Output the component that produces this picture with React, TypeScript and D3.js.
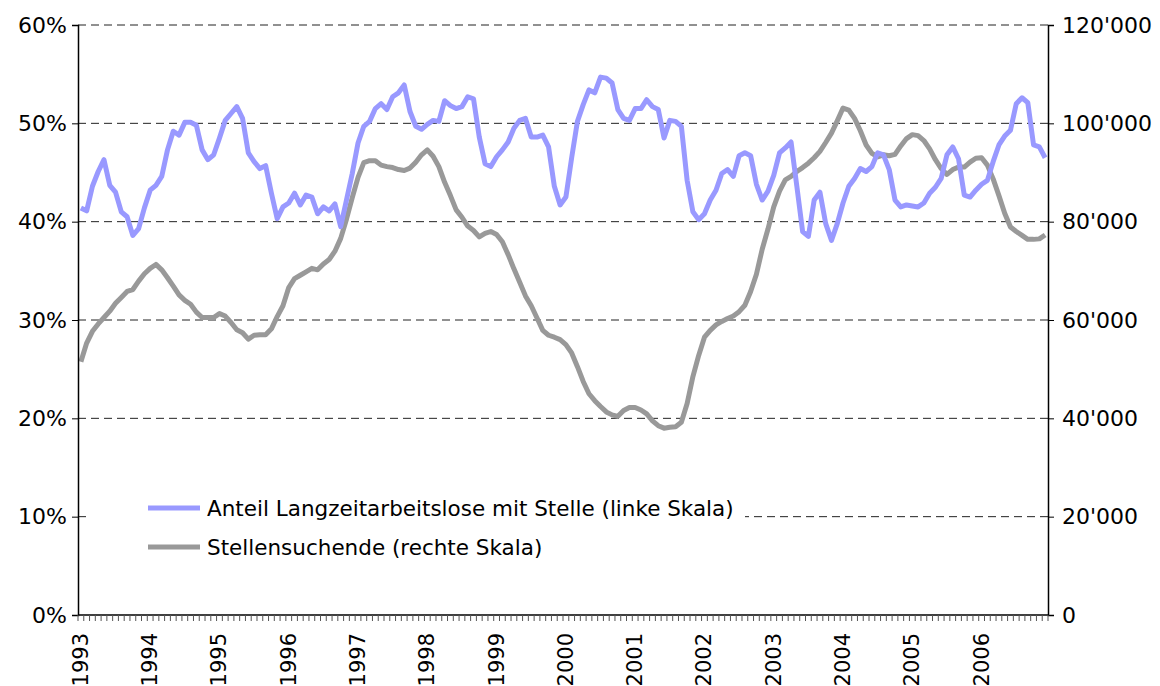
import React, { useRef, useEffect } from 'react';
import * as d3 from 'd3';

const years = [1993, 1994, 1995, 1996, 1997, 1998, 1999, 2000, 2001, 2002, 2003, 2004, 2005, 2006];
const months = years.flatMap(y => d3.range(1, 13).map(m => `${y}-${String(m).padStart(2, '0')}`));

// Anteil Langzeitarbeitslose mit Stelle, in %
const anteil = [
  41.4, 41.1, 43.6, 45.1, 46.3, 43.7, 43.0, 41.0, 40.5, 38.6, 39.3, 41.4,
  43.2, 43.7, 44.6, 47.3, 49.2, 48.8, 50.1, 50.1, 49.8, 47.3, 46.3, 46.8,
  48.5, 50.3, 51.0, 51.7, 50.5, 47.0, 46.1, 45.4, 45.7, 42.9, 40.3, 41.5,
  41.9, 42.9, 41.7, 42.7, 42.5, 40.8, 41.5, 41.1, 41.8, 39.5, 42.2, 44.9,
  48.0, 49.7, 50.2, 51.5, 52.0, 51.4, 52.7, 53.1, 53.9, 51.2, 49.7, 49.4,
  49.9, 50.3, 50.2, 52.3, 51.8, 51.5, 51.7, 52.7, 52.5, 48.6, 45.9, 45.6,
  46.6, 47.3, 48.1, 49.5, 50.3, 50.5, 48.6, 48.6, 48.8, 47.6, 43.6, 41.7,
  42.5, 46.5, 50.2, 51.9, 53.4, 53.1, 54.7, 54.6, 54.1, 51.4, 50.5, 50.3,
  51.5, 51.5, 52.4, 51.7, 51.4, 48.5, 50.3, 50.2, 49.7, 44.2, 41.0, 40.2,
  40.8, 42.2, 43.2, 44.9, 45.3, 44.6, 46.7, 47.0, 46.7, 43.8, 42.2, 43.1,
  44.7, 47.0, 47.5, 48.1, 43.6, 39.0, 38.5, 42.2, 43.0, 39.8, 38.1, 39.8,
  41.9, 43.6, 44.4, 45.4, 45.1, 45.6, 47.0, 46.8, 45.3, 42.2, 41.5, 41.7,
  41.6, 41.5, 41.9, 42.9, 43.5, 44.4, 46.8, 47.6, 46.4, 42.7, 42.5, 43.2,
  43.8, 44.2, 46.1, 47.8, 48.7, 49.3, 52.0, 52.6, 52.1, 47.8, 47.6, 46.5
];

// Stellensuchende
const stellensuchende = [
  51500, 55300, 57700, 59200, 60500, 61800, 63400, 64600, 65800, 66200, 67900, 69400,
  70500, 71300, 70200, 68600, 66900, 65100, 64000, 63200, 61600, 60500, 60500, 60500,
  61300, 60800, 59500, 58000, 57400, 56100, 56900, 57000, 57000, 58200, 60700, 62900,
  66600, 68400, 69100, 69800, 70500, 70200, 71400, 72300, 74000, 76600, 80500, 84900,
  89000, 92000, 92400, 92400, 91500, 91200, 91000, 90600, 90400, 90900, 92100, 93600,
  94600, 93300, 91200, 88000, 85300, 82400, 80900, 79100, 78200, 76900, 77600, 78000,
  77400, 75900, 73300, 70400, 67700, 64900, 62900, 60400, 57900, 56900, 56500, 56000,
  55000, 53300, 50500, 47500, 45000, 43600, 42400, 41300, 40700, 40400, 41600, 42200,
  42200, 41700, 40900, 39500, 38500, 38000, 38200, 38300, 39200, 43000, 48500, 52800,
  56500, 57900, 59000, 59700, 60300, 60800, 61700, 63000, 65800, 69300, 74400, 78500,
  83000, 86200, 88500, 89200, 90200, 91000, 91900, 93000, 94300, 96100, 98000, 100500,
  103100, 102700, 101000, 98500, 95600, 93900, 93200, 93600, 93400, 93700, 95400, 96900,
  97700, 97500, 96500, 94800, 92600, 90800, 89600, 90600, 91100, 91100, 92100, 92900,
  93000, 91500, 88700, 85300, 81700, 78900, 78000, 77200, 76400, 76400, 76500, 77300
];

const leftTicks = [0, 10, 20, 30, 40, 50, 60];
const rightTicks = [0, 20000, 40000, 60000, 80000, 100000, 120000];
const legendLabels = ['Anteil Langzeitarbeitslose mit Stelle (linke Skala)', 'Stellensuchende (rechte Skala)'];
const colors = ['#9999ff', '#999999'];

const font = '"DejaVu Sans", sans-serif';

const App = () => {
  const ref = useRef(null);

  useEffect(() => {
    const svg = d3.select(ref.current);
    svg.selectAll('*').remove();

    const margin = { top: 25, right: 112, bottom: 71, left: 78 };
    const width = 1160, height = 686;
    const bottom = height - margin.bottom;
    const right = width - margin.right;

    const x = d3.scaleBand().domain(months).range([margin.left, right]);
    const cx = (i) => x(months[i]) + x.bandwidth() / 2;
    const yL = d3.scaleLinear().domain([0, 60]).range([bottom, margin.top]);
    const yR = d3.scaleLinear().domain([0, 120000]).range([bottom, margin.top]);
    const fmt = d3.formatLocale({ decimal: '.', thousands: "'", grouping: [3], currency: ['', ''] }).format(',');

    // gridlines
    svg.append('g').selectAll('line')
      .data(leftTicks.filter(t => t > 0))
      .join('line')
      .attr('x1', margin.left).attr('x2', right)
      .attr('y1', d => yL(d)).attr('y2', d => yL(d))
      .attr('stroke', '#222').attr('stroke-width', 1)
      .attr('stroke-dasharray', '8,5');

    // lines
    const lineL = d3.line().x((d, i) => cx(i)).y(d => yL(d));
    const lineR = d3.line().x((d, i) => cx(i)).y(d => yR(d));
    svg.append('path').datum(stellensuchende)
      .attr('fill', 'none').attr('stroke', colors[1]).attr('stroke-width', 5)
      .attr('stroke-linejoin', 'round').attr('d', lineR);
    svg.append('path').datum(anteil)
      .attr('fill', 'none').attr('stroke', colors[0]).attr('stroke-width', 5)
      .attr('stroke-linejoin', 'round').attr('d', lineL);

    // axes
    const yAxisL = d3.axisLeft(yL).tickValues(leftTicks).tickSize(6).tickPadding(5).tickFormat(d => `${d}%`);
    const gl = svg.append('g').attr('transform', `translate(${margin.left},0)`).call(yAxisL);
    const yAxisR = d3.axisRight(yR).tickValues(rightTicks).tickSize(6).tickPadding(8).tickFormat(d => fmt(d));
    const gr = svg.append('g').attr('transform', `translate(${right},0)`).call(yAxisR);
    [gl, gr].forEach(g => {
      g.select('.domain').attr('stroke', '#000').attr('stroke-width', 1.5);
      g.selectAll('line').attr('stroke', '#000');
      g.selectAll('text').attr('fill', '#000').style('font-family', font).style('font-size', '22px');
    });

    // x axis with monthly ticks
    const gx = svg.append('g');
    gx.append('line').attr('x1', margin.left).attr('x2', right)
      .attr('y1', bottom).attr('y2', bottom).attr('stroke', '#000').attr('stroke-width', 1.5);
    gx.selectAll('line.tick')
      .data(d3.range(months.length + 1))
      .join('line').attr('class', 'tick')
      .attr('x1', i => margin.left + i * x.step()).attr('x2', i => margin.left + i * x.step())
      .attr('y1', bottom).attr('y2', bottom + 6)
      .attr('stroke', '#555').attr('stroke-width', 1);
    gx.selectAll('text')
      .data(years)
      .join('text')
      .attr('transform', (d, k) => `translate(${cx(k * 12)},${bottom + 18}) rotate(-90)`)
      .attr('text-anchor', 'end')
      .attr('dominant-baseline', 'central')
      .style('font-family', font).style('font-size', '21px')
      .text(d => d);

    // legend
    const legend = svg.append('g');
    legend.append('rect').attr('x', 90).attr('y', 490).attr('width', 655).attr('height', 75).attr('fill', '#fff');
    legendLabels.forEach((label, i) => {
      const ly = 508 + i * 39;
      legend.append('line').attr('x1', 148).attr('x2', 200).attr('y1', ly).attr('y2', ly)
        .attr('stroke', colors[i]).attr('stroke-width', 5);
      legend.append('text').attr('x', 207).attr('y', ly).attr('dominant-baseline', 'central')
        .style('font-family', font).style('font-size', '21.5px').text(label);
    });
  }, []);

  return <svg ref={ref} width="1160" height="686" style={{ position: 'absolute', left: 0, top: 0, background: '#fff' }}></svg>;
};

export default App;
